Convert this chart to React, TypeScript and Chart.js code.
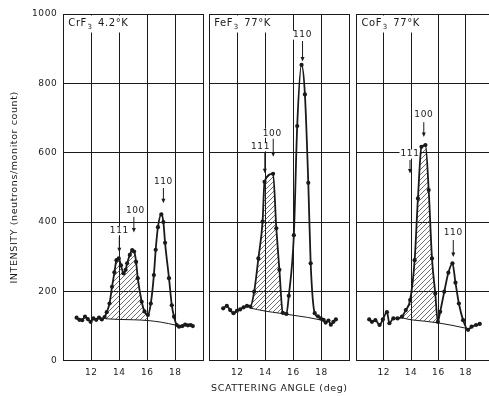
import React, { useEffect, useRef } from "react";
import { Chart, registerables } from "chart.js";
Chart.register(...registerables);

// ---------- data ----------
const crX = [10.95, 11.15, 11.35, 11.55, 11.75, 11.95, 12.15, 12.35, 12.55, 12.75, 12.95, 13.1, 13.3, 13.48, 13.65, 13.8, 13.96, 14.12, 14.3, 14.45, 14.56, 14.75, 14.92, 15.06, 15.2, 15.32, 15.6, 15.8, 16.04, 16.25, 16.47, 16.6, 16.76, 17.0, 17.15, 17.27, 17.55, 17.75, 17.91, 18.1, 18.27, 18.5, 18.7, 18.9, 19.1, 19.25];
const crY = [124, 118, 117, 127, 120, 112, 122, 118, 124, 119, 126, 140, 165, 213, 255, 290, 295, 275, 252, 262, 281, 305, 319, 315, 285, 238, 170, 142, 132, 165, 247, 320, 385, 422, 400, 340, 238, 160, 127, 103, 98, 100, 104, 102, 103, 100];
const crBaseX = [13.0, 14, 15, 16, 17, 18];
const crBaseY = [121, 119, 118, 116, 111, 103];

const feX = [10.99, 11.25, 11.49, 11.73, 11.97, 12.2, 12.45, 12.69, 12.93, 13.2, 13.5, 13.8, 13.94, 14.55, 14.78, 15.0, 15.24, 15.5, 15.67, 16.03, 16.27, 16.58, 16.82, 17.06, 17.23, 17.52, 17.75, 17.95, 18.15, 18.3, 18.5, 18.67, 18.85, 19.03];
const feY = [151, 158, 146, 137, 144, 148, 154, 158, 156, 199, 295, 401, 516, 539, 382, 262, 138, 135, 187, 362, 677, 853, 768, 513, 281, 137, 128, 122, 118, 110, 116, 104, 112, 119];
const feBaseX = [12.9, 14, 15, 16, 17, 18];
const feBaseY = [152, 143, 137, 131, 125, 117];

const coX = [10.93, 11.13, 11.38, 11.69, 11.93, 12.23, 12.41, 12.7, 13.01, 13.33, 13.61, 13.93, 14.26, 14.5, 14.76, 15.05, 15.29, 15.53, 15.77, 15.96, 16.13, 16.43, 16.73, 17.03, 17.25, 17.5, 17.81, 18.17, 18.43, 18.76, 19.03];
const coY = [119, 112, 117, 103, 119, 140, 108, 122, 122, 127, 146, 175, 290, 468, 617, 622, 492, 295, 194, 112, 141, 199, 254, 281, 225, 165, 117, 89, 98, 103, 106];
const coBaseX = [13.3, 14, 15, 16, 17, 18.1];
const coBaseY = [124, 118, 114, 109, 102, 93];

const hatchRanges: [number, number][] = [[12.95, 16.04], [12.93, 15.24], [13.33, 15.96]];

const compounds = ["CrF", "FeF", "CoF"];
const subscripts = ["3", "3", "3"];
const temps = ["4.2°K", "77°K", "77°K"];

const xTickLabels = [12, 14, 16, 18];
const yTickLabels = [0, 200, 400, 600, 800, 1000];

// annotations: label, text x, text y, arrow x, arrow top y, arrow tip y (data units)
const annLabels = [["111", "100", "110"], ["111", "100", "110"], ["111", "100", "110"]];
const annTextX = [[14.0, 15.15, 17.15], [13.65, 14.49, 16.65], [13.92, 14.93, 17.09]];
const annTextY = [[375, 433, 516], [617, 656, 939], [596, 709, 368]];
const annArrowX = [[14.0, 15.04, 17.15], [13.96, 14.56, 16.65], [13.92, 14.93, 17.09]];
const annArrowTop = [[357, 415, 498], [602, 640, 922], [579, 688, 348]];
const annArrowTip = [[313, 370, 454], [541, 588, 863], [540, 645, 299]];

const panelX = [crX, feX, coX];
const panelY = [crY, feY, coY];
const panelBaseX = [crBaseX, feBaseX, coBaseX];
const panelBaseY = [crBaseY, feBaseY, coBaseY];

// ---------- layout ----------
const CW = 500;
const CH = 396;
const plotLeft = [63.3, 209.3, 356.5];
const plotRight = [203.3, 349.5, 495.5];
const plotTop = 14;
const plotBottom = 360.7;
const INK = "#1a1a1a";
const FONT = '"DejaVu Sans", "Liberation Sans", sans-serif';

function makePattern(): CanvasPattern | string {
  const c = document.createElement("canvas");
  c.width = 5;
  c.height = 5;
  const g = c.getContext("2d");
  if (!g) return INK;
  g.strokeStyle = "#333";
  g.lineWidth = 0.7;
  g.beginPath();
  g.moveTo(0, 5);
  g.lineTo(5, 0);
  g.moveTo(-1, 1);
  g.lineTo(1, -1);
  g.moveTo(4, 6);
  g.lineTo(6, 4);
  g.stroke();
  return g.createPattern(c, "repeat") || INK;
}

function Panel({ idx }: { idx: number }) {
  const ref = useRef<HTMLCanvasElement | null>(null);
  useEffect(() => {
    if (!ref.current) return;
    const xs = panelX[idx];
    const ys = panelY[idx];
    const pts = xs.map((x, i) => ({ x, y: ys[i] }));
    const base = panelBaseX[idx].map((x, i) => ({ x, y: panelBaseY[idx][i] }));
    const [h0, h1] = hatchRanges[idx];
    const hatch = pts.filter((p) => p.x >= h0 && p.x <= h1);
    const first = idx === 0;

    const spacingPlugin = {
      id: "spacing" + idx,
      beforeDraw(chart: any) {
        try {
          (chart.ctx as any).letterSpacing = "0.6px";
        } catch (e) {}
      },
    };

    const labelPlugin = {
      id: "panelLabels" + idx,
      beforeDatasetsDraw(chart: any) {
        const ctx = chart.ctx;
        const sx = chart.scales.x;
        const sy = chart.scales.y;
        const area = chart.chartArea;
        ctx.save();
        ctx.font = `10px ${FONT}`;
        const w1 = ctx.measureText(compounds[idx]).width;
        ctx.font = `7px ${FONT}`;
        const w2 = ctx.measureText(subscripts[idx]).width;
        ctx.font = `10px ${FONT}`;
        const w3 = ctx.measureText(temps[idx]).width;
        const lx = area.left + 5;
        const total = w1 + w2 + 6 + w3;
        ctx.fillStyle = "#fff";
        const coverRight = Math.max(lx + total + 2, sx.getPixelForValue(14) + 2);
        ctx.fillRect(area.left + 1.5, area.top + 1.5, coverRight - area.left - 1.5, 31 - area.top);
        ctx.fillStyle = INK;
        ctx.textBaseline = "alphabetic";
        ctx.textAlign = "left";
        ctx.font = `10px ${FONT}`;
        ctx.fillText(compounds[idx], lx, 26);
        ctx.font = `7px ${FONT}`;
        ctx.fillText(subscripts[idx], lx + w1 + 0.5, 29);
        ctx.font = `10px ${FONT}`;
        ctx.fillText(temps[idx], lx + w1 + w2 + 6, 26);

        ctx.font = `9px ${FONT}`;
        ctx.textAlign = "center";
        ctx.textBaseline = "middle";
        ctx.strokeStyle = INK;
        ctx.lineWidth = 1;
        annLabels[idx].forEach((lab, k) => {
          const tx = sx.getPixelForValue(annTextX[idx][k]);
          const ty = sy.getPixelForValue(annTextY[idx][k]);
          const tw = ctx.measureText(lab).width;
          ctx.fillStyle = "#fff";
          ctx.fillRect(tx - tw / 2 - 1, ty - 4.5, tw + 2, 9);
          ctx.fillStyle = INK;
          ctx.fillText(lab, tx, ty);
          const ax = sx.getPixelForValue(annArrowX[idx][k]);
          const a1 = sy.getPixelForValue(annArrowTop[idx][k]);
          const a2 = sy.getPixelForValue(annArrowTip[idx][k]);
          ctx.beginPath();
          ctx.moveTo(ax, a1);
          ctx.lineTo(ax, a2 - 3);
          ctx.stroke();
          ctx.beginPath();
          ctx.moveTo(ax - 2, a2 - 4.5);
          ctx.lineTo(ax + 2, a2 - 4.5);
          ctx.lineTo(ax, a2);
          ctx.closePath();
          ctx.fill();
        });
        ctx.restore();
      },
    };

    const chart = new Chart(ref.current, {
      type: "line",
      data: {
        datasets: [
          {
            data: pts,
            borderColor: INK,
            borderWidth: 1.8,
            pointRadius: 2.1,
            pointBackgroundColor: INK,
            pointBorderColor: INK,
            pointBorderWidth: 0,
            cubicInterpolationMode: "monotone",
            fill: false,
          },
          {
            data: base,
            borderColor: INK,
            borderWidth: 1,
            pointRadius: 0,
            cubicInterpolationMode: "monotone",
            fill: false,
          },
          {
            data: hatch,
            borderWidth: 0,
            borderColor: "rgba(0,0,0,0)",
            pointRadius: 0,
            cubicInterpolationMode: "monotone",
            backgroundColor: makePattern() as any,
            fill: { target: 1 },
          },
        ],
      },
      options: {
        animation: false,
        responsive: false,
        events: [],
        layout: {
          padding: { left: first ? 0 : plotLeft[idx], right: CW - plotRight[idx], top: plotTop, bottom: 0 },
        },
        plugins: { legend: { display: false }, tooltip: { enabled: false } },
        scales: {
          x: {
            type: "linear",
            min: 10,
            max: 20,
            ticks: {
              stepSize: 2,
              padding: 7,
              color: INK,
              font: { family: FONT, size: 9 },
              maxRotation: 0,
              callback: (v: any) => (xTickLabels.includes(Number(v)) ? String(v) : ""),
            },
            grid: { color: INK, lineWidth: 1, drawTicks: false },
            border: { color: INK, width: 1 },
            title: {
              display: idx === 1,
              text: "SCATTERING ANGLE (deg)",
              color: INK,
              font: { family: FONT, size: 9.5 },
              padding: { top: 0, bottom: 2 },
            },
            afterFit: (s: any) => {
              s.height = CH - plotBottom;
            },
          },
          y: {
            type: "linear",
            min: 0,
            max: 1000,
            ticks: {
              display: first,
              stepSize: 200,
              padding: 6,
              color: INK,
              font: { family: FONT, size: 9 },
              callback: (v: any) => (yTickLabels.includes(Number(v)) ? String(v) : ""),
            },
            grid: { color: INK, lineWidth: 1, drawTicks: false },
            border: { color: INK, width: 1 },
            title: {
              display: first,
              text: "INTENSITY (neutrons/monitor count)",
              color: INK,
              font: { family: FONT, size: 9.5 },
              padding: { top: 9.3, bottom: 0 },
            },
            afterFit: (s: any) => {
              s.width = first ? plotLeft[0] : 0;
            },
          },
        },
      } as any,
      plugins: [spacingPlugin, labelPlugin],
    });
    return () => chart.destroy();
  }, [idx]);
  return (
    <canvas
      ref={ref}
      width={CW}
      height={CH}
      style={{ position: "absolute", left: 0, top: 0, width: CW, height: CH, display: "block" }}
    />
  );
}

export default function App() {
  return (
    <div
      style={{
        position: "fixed",
        left: 0,
        top: 0,
        width: 489,
        height: 396,
        overflow: "hidden",
        background: "#fff",
      }}
    >
      <Panel idx={0} />
      <Panel idx={1} />
      <Panel idx={2} />
    </div>
  );
}
